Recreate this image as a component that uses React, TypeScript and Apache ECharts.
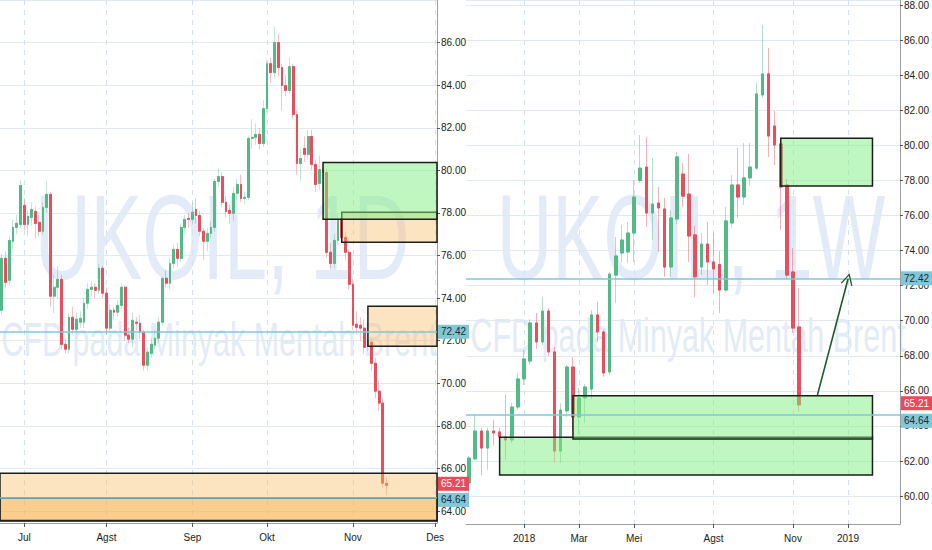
import React, { useEffect, useRef } from 'react';
import * as echarts from 'echarts';

// ---------- DATA ----------
// daily candles (UKOIL, 1D): [open, close, low, high]
const dailyCandles: number[][] = [
  [73.43, 75.87, 73.2, 76.1], [75.87, 74.74, 74.5, 76.2], [74.84, 76.71, 74.6, 76.9], [76.67, 77.32, 76.3, 77.7],
  [77.32, 77.51, 77.0, 77.9], [77.46, 79.29, 77.3, 79.55], [78.35, 77.46, 77.2, 78.7], [77.46, 77.84, 76.9, 78.1],
  [77.79, 78.17, 77.4, 78.5], [78.07, 77.51, 76.8, 78.3], [77.56, 77.14, 76.9, 77.9], [77.14, 78.26, 77.0, 78.5],
  [78.26, 78.87, 78.0, 79.5], [78.87, 74.09, 73.6, 79.0], [74.09, 74.51, 73.3, 75.1], [74.51, 74.88, 74.0, 75.5],
  [74.88, 71.83, 71.6, 75.1], [71.83, 71.6, 71.4, 72.1], [71.6, 73.1, 71.4, 73.3], [73.1, 72.54, 72.3, 73.6],
  [72.54, 73.01, 72.3, 73.3], [72.87, 73.05, 72.6, 73.4], [72.87, 73.76, 72.6, 74.0], [73.76, 74.41, 73.5, 74.7],
  [74.41, 74.51, 74.1, 74.8], [74.51, 74.37, 74.0, 74.7], [74.37, 75.4, 74.2, 75.6], [75.4, 74.23, 74.0, 75.5],
  [74.23, 72.59, 72.3, 74.5], [72.59, 73.43, 72.4, 73.7], [73.43, 73.34, 73.0, 73.6], [73.34, 73.66, 73.1, 73.9],
  [73.66, 74.51, 73.5, 74.7], [74.51, 72.26, 72.0, 74.6], [72.26, 72.07, 71.9, 72.6], [72.07, 72.96, 71.7, 73.3],
  [72.87, 72.82, 72.5, 73.1], [72.82, 72.4, 72.1, 73.2], [72.4, 70.85, 70.6, 72.5], [70.85, 71.46, 70.6, 71.7],
  [71.41, 71.83, 71.2, 72.1], [71.79, 72.12, 71.6, 72.5], [72.12, 72.87, 71.9, 73.1], [72.87, 74.93, 72.7, 75.0],
  [74.93, 74.7, 74.5, 75.3], [74.7, 75.63, 74.4, 75.9], [75.63, 76.29, 75.4, 76.5], [76.29, 75.87, 75.5, 76.6],
  [75.87, 77.32, 75.7, 77.5], [77.32, 77.7, 77.0, 77.9], [77.74, 77.7, 77.3, 78.0], [77.7, 78.03, 77.5, 78.5],
  [78.17, 77.88, 77.5, 78.7], [77.88, 77.14, 76.9, 78.1], [77.14, 76.67, 75.8, 77.3], [76.67, 77.04, 76.2, 77.3],
  [77.04, 77.32, 76.8, 77.6], [77.32, 79.48, 77.1, 79.6], [79.48, 79.71, 79.2, 80.1], [79.71, 78.5, 78.3, 79.9],
  [78.5, 78.07, 77.8, 78.8], [78.12, 77.98, 77.5, 78.4], [77.98, 78.92, 77.6, 79.2], [78.92, 79.34, 78.6, 79.6],
  [79.34, 78.68, 78.5, 79.8], [78.68, 78.73, 78.4, 79.0], [78.73, 81.5, 78.6, 81.6], [81.5, 81.55, 81.0, 82.4],
  [81.55, 81.69, 81.2, 82.2], [81.69, 81.26, 81.0, 82.0], [81.26, 82.9, 81.1, 83.3], [82.9, 85.01, 82.7, 85.2],
  [85.01, 84.59, 84.1, 85.3], [84.59, 86.0, 84.3, 86.75], [86.0, 84.83, 84.4, 86.4], [84.83, 83.98, 82.8, 85.0],
  [83.98, 83.75, 83.5, 84.5], [83.75, 84.87, 83.6, 85.3], [84.87, 82.62, 82.4, 85.0], [82.62, 80.32, 79.8, 82.8],
  [80.32, 80.56, 79.5, 81.0], [81.03, 80.75, 80.4, 81.6], [80.75, 81.59, 80.5, 81.9], [81.59, 80.28, 80.0, 81.9],
  [80.28, 79.34, 79.0, 80.5], [79.39, 80.04, 79.1, 80.7], [80.04, 79.9, 79.6, 80.3], [79.9, 76.15, 75.9, 80.1],
  [76.15, 75.63, 75.4, 76.6], [75.63, 76.71, 75.4, 77.0], [76.71, 77.65, 76.5, 77.9], [77.74, 76.85, 76.6, 77.9],
  [76.85, 76.15, 75.8, 77.1], [76.15, 74.65, 74.4, 76.3], [74.65, 72.73, 72.5, 74.9], [72.77, 72.63, 72.3, 73.4],
  [72.73, 72.59, 72.0, 73.1], [72.59, 71.69, 71.4, 73.0], [71.79, 72.02, 71.5, 72.9], [71.93, 70.94, 70.6, 72.1],
  [70.94, 69.63, 69.3, 71.2], [69.63, 69.07, 68.7, 70.1], [69.07, 65.31, 65.1, 69.3], [65.3, 65.21, 64.75, 65.6],
];

// weekly candles (UKOIL, 1W): [open, close, low, high]
const weeklyCandles: number[][] = [
  [60.75, 62.17, 60.06, 62.3], [62.12, 63.71, 62.06, 64.68], [63.71, 62.74, 61.2, 63.9], [62.74, 63.71, 61.5, 63.9],
  [63.71, 63.6, 62.9, 64.34], [63.66, 63.37, 62.8, 63.9], [63.37, 63.2, 62.06, 65.8], [63.2, 65.08, 63.0, 65.3],
  [65.08, 66.68, 64.9, 67.0], [66.68, 67.82, 66.34, 68.33], [67.7, 69.87, 67.5, 70.1], [69.87, 68.79, 68.4, 70.44],
  [68.79, 70.55, 68.6, 71.35], [70.55, 68.22, 67.99, 70.7], [68.22, 62.57, 61.89, 68.5], [62.57, 64.91, 61.89, 65.3],
  [64.86, 67.36, 64.5, 67.48], [67.36, 64.51, 63.77, 67.93], [64.51, 65.6, 63.54, 66.16], [65.6, 66.22, 64.17, 66.4],
  [66.1, 70.33, 65.54, 70.61], [70.33, 69.36, 68.8, 71.1], [69.36, 67.02, 66.8, 69.5], [67.08, 72.66, 66.9, 72.8],
  [72.6, 73.69, 71.0, 74.77], [73.86, 74.6, 73.3, 75.46], [73.92, 75.0, 73.3, 75.63], [75.0, 77.05, 73.35, 78.0],
  [78.0, 78.7, 77.85, 80.59], [78.76, 76.14, 75.34, 80.47], [76.14, 76.65, 74.6, 79.28], [76.71, 76.43, 73.92, 77.62],
  [76.37, 73.06, 72.5, 77.0], [73.06, 75.86, 72.5, 76.3], [75.8, 79.34, 75.5, 79.62], [78.36, 77.1, 76.49, 78.99],
  [77.22, 74.83, 73.35, 79.51], [74.89, 72.5, 71.35, 75.4], [73.06, 74.37, 72.6, 75.0], [74.37, 73.35, 72.04, 75.63],
  [73.35, 72.95, 71.58, 75.0], [73.2, 71.75, 70.44, 73.97], [71.75, 75.69, 71.58, 76.49], [75.57, 77.74, 75.3, 78.3],
  [77.74, 77.05, 75.86, 79.85], [77.05, 78.14, 76.6, 80.13], [78.14, 78.76, 77.7, 80.13], [78.7, 82.93, 78.6, 83.55],
  [82.87, 84.07, 82.7, 86.86], [84.07, 80.53, 79.33, 85.55], [81.1, 80.02, 78.88, 81.96], [80.08, 77.62, 75.17, 80.42],
  [77.74, 72.6, 72.38, 78.08], [72.78, 69.58, 69.3, 74.14], [69.64, 65.2, 64.8, 71.87],
];

const DAILY_SLOTS = 117; // trading days shown incl. empty future
const WEEKLY_SLOTS = 71;

const dailyTickIdx = [6, 28, 51, 71, 94, 116];
const dailyTickLabels = ['Jul', 'Agst', 'Sep', 'Okt', 'Nov', 'Des'];
const weeklyTickIdx = [9, 18, 27, 40, 53, 62];
const weeklyTickLabels = ['2018', 'Mar', 'Mei', 'Agst', 'Nov', '2019'];

const keyLevels = [72.42, 64.64];
const lastPrice = 65.21;

// zones: start index (null = from axis start), end index (null = to axis end), top, bottom, kind
const dailyZones = [
  { start: 91, end: null, top: 78.03, bottom: 76.62, kind: 'sell' },
  { start: 86, end: null, top: 80.37, bottom: 77.7, kind: 'buy' },
  { start: 98, end: null, top: 73.62, bottom: 71.74, kind: 'sell' },
  { start: null, end: null, top: 65.78, bottom: 63.53, kind: 'sell' },
  { start: null, end: null, top: 64.6, bottom: 63.56, kind: 'sellDeep' },
];
const weeklyZones = [
  { start: 51, end: 66, top: 80.41, bottom: 77.68, kind: 'buy' },
  { start: 5, end: 66, top: 63.36, bottom: 61.2, kind: 'buy' },
  { start: 17, end: 66, top: 65.72, bottom: 63.25, kind: 'buy' },
];
const weeklyArrow = { from: [57, 65.77], to: [62, 72.38] };

// ---------- STYLE ----------
const GREEN = '#53b987';
const RED = '#eb4d5c';
const TEAL = '#82c7d6';
const AXIS = '#9aa0a6';
const WM = '#e4ebf8';
const NARROW = '"Liberation Sans Narrow", "Liberation Sans", Arial, sans-serif';
const WMFONT = '"Liberation Sans", Arial, sans-serif';

const zoneStyle: Record<string, any> = {
  buy: { color: 'rgba(130, 238, 130, 0.5)', borderColor: '#1b1f1b', borderWidth: 1.5 },
  sell: { color: 'rgba(251, 188, 100, 0.4)', borderColor: '#1b1f1b', borderWidth: 1.5 },
  sellDeep: { color: 'rgba(250, 176, 70, 0.42)', borderColor: '#1b1f1b', borderWidth: 1.5 },
};

function cats(n: number) {
  return Array.from({ length: n }, (_, i) => String(i));
}

function xAxisFor(gridIndex: number, n: number, tickIdx: number[], tickLabels: string[]) {
  const isTick = (i: number) => tickIdx.indexOf(i) >= 0;
  return {
    type: 'category',
    gridIndex,
    data: cats(n),
    boundaryGap: true,
    axisLine: { show: true, lineStyle: { color: AXIS, width: 1 } },
    axisTick: { show: true, alignWithLabel: true, length: 4, interval: isTick, lineStyle: { color: '#555' } },
    axisLabel: {
      interval: isTick,
      formatter: (v: string) => tickLabels[tickIdx.indexOf(Number(v))] ?? '',
      margin: 9,
      fontSize: 10,
      fontFamily: NARROW,
      color: '#222',
    },
    splitLine: {
      show: true,
      alignWithLabel: true,
      interval: isTick,
      lineStyle: { color: '#d3e2ee', type: [5, 5], width: 1 },
    },
  };
}

function yAxisFor(gridIndex: number, min: number, max: number) {
  return {
    type: 'value',
    gridIndex,
    position: 'right',
    min,
    max,
    splitNumber: 14,
    minInterval: 2,
    maxInterval: 2,
    axisLine: { show: true, lineStyle: { color: AXIS, width: 1 } },
    axisTick: { show: true, length: 3, lineStyle: { color: '#555' } },
    axisLabel: {
      formatter: (v: number) => v.toFixed(2),
      showMinLabel: false,
      showMaxLabel: false,
      margin: 4,
      fontSize: 10,
      fontFamily: NARROW,
      color: '#222',
    },
    splitLine: { show: true, lineStyle: { color: '#e1eaf1', width: 1 } },
  };
}

// each zone becomes its own series so every rectangle is drawn independently
function zoneSeries(axisIdx: number, zones: any[]) {
  return zones.map((z, i) => {
    const a: any = { yAxis: z.top, itemStyle: zoneStyle[z.kind] };
    if (z.start !== null) a.xAxis = z.start;
    const b: any = { yAxis: z.bottom };
    if (z.end !== null) b.xAxis = z.end;
    return {
      type: 'line',
      name: `zone-${axisIdx}-${i}`,
      xAxisIndex: axisIdx,
      yAxisIndex: axisIdx,
      data: [],
      silent: true,
      z: 4,
      markArea: { silent: true, z: 4 + i * 0.01, label: { show: false }, data: [[a, b]] },
    };
  });
}

function levelLines(offset64: number, offsetLast: number) {
  const lbl = (bg: string, fg: string, off: number) => ({
    show: true,
    position: 'end',
    distance: 1,
    offset: [0, off],
    formatter: (p: any) => Number(p.value).toFixed(2),
    backgroundColor: bg,
    color: fg,
    padding: [2, 3, 2, 3],
    fontSize: 10,
    fontFamily: NARROW,
  });
  return [
    { yAxis: keyLevels[0], lineStyle: { color: TEAL, width: 1.5, type: 'solid' }, label: lbl(TEAL, '#1d2b33', 0) },
    { yAxis: keyLevels[1], lineStyle: { color: TEAL, width: 1.5, type: 'solid' }, label: lbl(TEAL, '#1d2b33', offset64) },
    { yAxis: lastPrice, lineStyle: { color: 'rgba(0,0,0,0)', width: 1, type: 'solid' }, label: lbl('#e94a5b', '#ffffff', offsetLast) },
  ];
}

function candleSeries(idx: number, data: number[][], barWidth: number, wickAlpha: number, bodyExtra: any) {
  const wick = {
    type: 'candlestick',
    xAxisIndex: idx,
    yAxisIndex: idx,
    data: data.map((d) => [d[0], d[1], d[2], d[3]]),
    barWidth,
    z: 2,
    silent: true,
    itemStyle: {
      color: 'rgba(0,0,0,0)',
      color0: 'rgba(0,0,0,0)',
      borderColor: `rgba(83,185,135,${wickAlpha})`,
      borderColor0: `rgba(235,77,92,${wickAlpha})`,
      borderWidth: 1,
    },
  };
  const body = {
    type: 'candlestick',
    xAxisIndex: idx,
    yAxisIndex: idx,
    data: data.map((d) => [d[0], d[1], Math.min(d[0], d[1]), Math.max(d[0], d[1])]),
    barWidth,
    z: 3,
    silent: true,
    itemStyle: { color: GREEN, color0: RED, borderColor: GREEN, borderColor0: RED, borderWidth: 1 },
    ...bodyExtra,
  };
  return [wick, body];
}

export default function App() {
  const ref = useRef<HTMLDivElement>(null);

  useEffect(() => {
    if (!ref.current) return;
    const chart = echarts.init(ref.current, undefined, { renderer: 'svg' });

    const arrowSymbol = 'path://M0,0 L6,11 L4.8,11.6 L0,2.6 L-4.8,11.6 L-6,11 Z';
    const wmStyle = (text: string, fontSize: number) => ({
      text, fontSize, fontFamily: WMFONT, fill: WM,
      align: 'center', verticalAlign: 'middle', textAlign: 'center', textVerticalAlign: 'middle',
    });

    const option: any = {
      animation: false,
      backgroundColor: '#ffffff',
      grid: [
        { left: 0, top: 0, width: 437, height: 523 },
        { left: 466, top: 0, width: 439, height: 524 },
      ],
      xAxis: [
        xAxisFor(0, DAILY_SLOTS, dailyTickIdx, dailyTickLabels),
        xAxisFor(1, WEEKLY_SLOTS, weeklyTickIdx, weeklyTickLabels),
      ],
      yAxis: [yAxisFor(0, 63.44, 88.0), yAxisFor(1, 58.41, 88.285)],
      graphic: [
        { type: 'text', x: 222, y: 237, scaleX: 0.646, z: 0, silent: true, style: wmStyle('UKOIL, 1D', 120) },
        { type: 'text', x: 219, y: 340, scaleX: 0.635, z: 0, silent: true, style: wmStyle('CFD pada Minyak Mentah Brent', 48) },
        { type: 'text', x: 691, y: 237, scaleX: 0.64, z: 0, silent: true, style: wmStyle('UKOIL, 1W', 120) },
        { type: 'text', x: 688, y: 336, scaleX: 0.635, z: 0, silent: true, style: wmStyle('CFD pada Minyak Mentah Brent', 48) },
      ],
      series: [
        ...candleSeries(0, dailyCandles, 2.3, 0.35, {
          markLine: { silent: true, z: 5, symbol: 'none', precision: 2, data: levelLines(2.5, -1.5) },
        }),
        ...candleSeries(1, weeklyCandles, 3, 0.45, {
          markLine: {
            silent: true,
            z: 5,
            symbol: 'none',
            precision: 2,
            data: [
              ...levelLines(6, -1.5),
              [
                { coord: weeklyArrow.from, symbol: 'none', lineStyle: { color: '#1e5a27', width: 1.6, type: 'solid' }, label: { show: false } },
                { coord: weeklyArrow.to, symbol: arrowSymbol, symbolSize: [12, 12] },
              ],
            ],
          },
        }),
        ...zoneSeries(0, dailyZones),
        ...zoneSeries(1, weeklyZones),
      ],
    };

    chart.setOption(option);
    return () => chart.dispose();
  }, []);

  return (
    <div
      ref={ref}
      style={{ position: 'absolute', left: 0, top: 0, width: 932, height: 550, background: '#fff' }}
    />
  );
}
